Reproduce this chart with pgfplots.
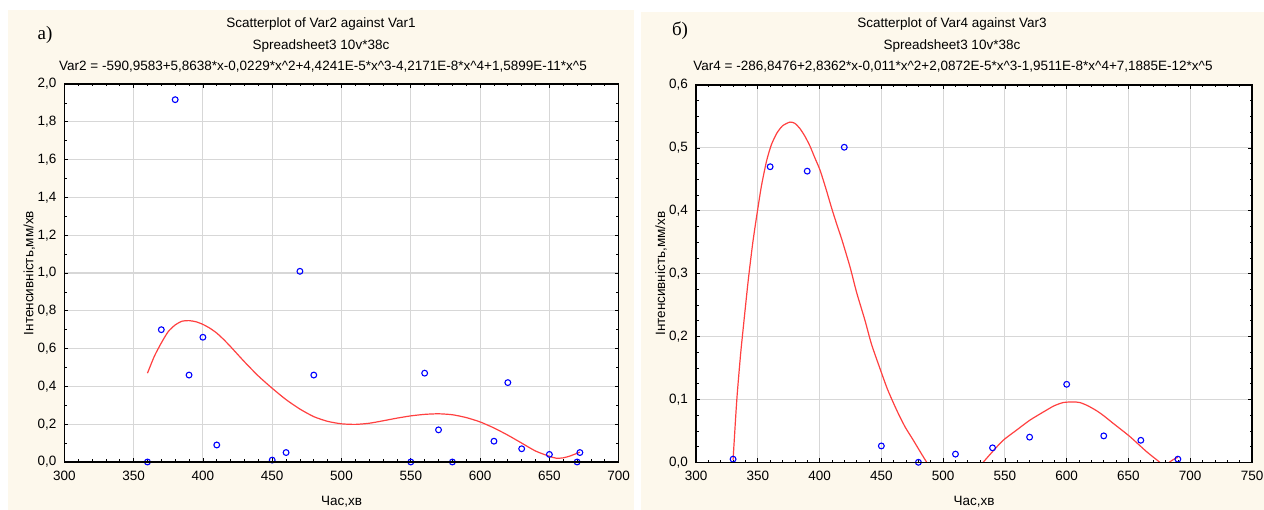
\documentclass[border=0pt]{standalone}
\usepackage{fontspec}
\setmainfont{Liberation Sans}
\newfontfamily\seriffont{Liberation Serif}
\usepackage{pgfplots}
\pgfplotsset{compat=1.18}
\definecolor{cream}{RGB}{253,248,236}
\definecolor{fitred}{RGB}{255,64,64}
\definecolor{gridgray}{RGB}{215,215,215}
\newcommand{\fs}{\fontsize{13.5bp}{15bp}\selectfont}
\pgfplotsset{
  myaxis/.style={
    scale only axis,
    axis background/.style={fill=white},
    font=\fs,
    tick align=inside,
    xtick pos=both, ytick pos=both,
    xticklabel pos=left, yticklabel pos=left,
    axis line style={black, line width=1.2bp},
    grid=major,
    major grid style={draw=gridgray, line width=1.1bp},
    major tick length=4bp,
    minor tick length=2.5bp,
    every tick/.style={black, line width=0.7bp},
    yticklabel style={font=\fs, xshift=-4.5bp},
    xticklabel style={font=\fs, yshift=-5.5bp},
    xlabel style={at={([yshift=-39.7bp]axis description cs:0.5,0)}, anchor=center, font=\fs},
    ylabel style={at={([xshift=-35bp]axis description cs:0,0.5)}, anchor=center, font=\fs},
    clip=true,
    after end axis/.code={\draw[black, line width=1.3bp] (rel axis cs:0,0) rectangle (rel axis cs:1,1);},
  },
  pts/.style={only marks, mark=o, mark size=2.9bp, draw=blue, mark options={draw=blue, line width=1.1bp}},
  fit/.style={no marks, fitred, line width=1.2bp, smooth, tension=0.4},
}
\begin{document}
\begin{tikzpicture}[x=1bp,y=1bp]
\useasboundingbox (0,0) rectangle (1264,510);
\fill[white] (0,0) rectangle (1264,510);
\fill[cream] (8,0) rectangle (634,500);
\fill[cream] (641,0) rectangle (1264,498);

\node[font=\fs] at (321,486) {Scatterplot of Var2 against Var1};
\node[font=\fs] at (321,464) {Spreadsheet3 10v*38c};
\node[font=\fs] at (323,443) {Var2 = -590,9583+5,8638*x-0,0229*x\^{}2+4,4241E-5*x\^{}3-4,2171E-8*x\^{}4+1,5899E-11*x\^{}5};
\node[font=\seriffont\fontsize{19bp}{21bp}\selectfont] at (45,475) {а)};

\node[font=\fs] at (952,486) {Scatterplot of Var4 against Var3};
\node[font=\fs] at (952,464) {Spreadsheet3 10v*38c};
\node[font=\fs] at (953,443) {Var4 = -286,8476+2,8362*x-0,011*x\^{}2+2,0872E-5*x\^{}3-1,9511E-8*x\^{}4+7,1885E-12*x\^{}5};
\node[font=\seriffont\fontsize{19bp}{21bp}\selectfont] at (680,479) {б)};

\begin{axis}[myaxis,
  at={(64.3bp,48bp)}, anchor=south west,
  width=554.4bp, height=378bp,
  xmin=300, xmax=700, ymin=0, ymax=2,
  xtick={300,350,400,450,500,550,600,650,700},
  xticklabels={300,350,400,450,500,550,600,650,700},
  ytick={0,0.2,0.4,0.6,0.8,1.0,1.2,1.4,1.6,1.8,2.0},
  yticklabels={{0,0},{0,2},{0,4},{0,6},{0,8},{1,0},{1,2},{1,4},{1,6},{1,8},{2,0}},
  minor x tick num=4, minor y tick num=1,
  xlabel={Час,хв}, ylabel={Інтенсивність,мм/хв},
]
\addplot[fit] coordinates {
(360,0.47) (365,0.56) (370,0.63) (375,0.69) (380,0.725) (385,0.745) (390,0.748)
(395,0.742) (400,0.728) (405,0.708) (410,0.682) (415,0.648) (420,0.61) (430,0.53) (440,0.455) (450,0.39)
(460,0.33) (470,0.28) (480,0.24) (490,0.215) (500,0.202) (510,0.199) (520,0.205)
(530,0.218) (540,0.232) (550,0.244) (560,0.252) (570,0.255) (580,0.25) (590,0.235)
(600,0.212) (610,0.18) (620,0.142) (630,0.1) (640,0.058) (650,0.03) (655,0.02)
(660,0.022) (665,0.032) (672,0.052)
};
\addplot[pts] coordinates {
(360,0) (370,0.70) (380,1.917) (390,0.46) (400,0.66) (410,0.09) (450,0.01) (460,0.05)
(470,1.009) (480,0.46) (550,0) (560,0.47) (570,0.17) (580,0) (610,0.11) (620,0.42)
(630,0.07) (650,0.04) (670,0) (672,0.05)
};
\end{axis}

\begin{axis}[myaxis,
  at={(696bp,47.7bp)}, anchor=south west,
  width=556bp, height=377.3bp,
  xmin=300, xmax=750, ymin=0, ymax=0.6,
  xtick={300,350,400,450,500,550,600,650,700,750},
  xticklabels={300,350,400,450,500,550,600,650,700,750},
  ytick={0,0.1,0.2,0.3,0.4,0.5,0.6},
  yticklabels={{0,0},{0,1},{0,2},{0,3},{0,4},{0,5},{0,6}},
  minor x tick num=4, minor y tick num=3,
  xlabel={Час,хв}, ylabel={Інтенсивність,мм/хв},
]
\addplot[fit] coordinates {
(330,0.004) (333,0.099) (336,0.17) (338.3,0.215) (342.3,0.29) (346,0.35) (349.6,0.398)
(353,0.44) (357.2,0.48) (361,0.505) (365.3,0.523) (370,0.535) (376,0.541) (380,0.539)
(384,0.531) (388,0.519) (392.2,0.503) (396,0.485) (400.3,0.465) (405,0.436) (409.8,0.404)
(414,0.378) (417.9,0.355) (424.6,0.311) (430,0.27) (436.7,0.226) (442,0.188) (448.9,0.149)
(455,0.116) (462.4,0.083) (469,0.057) (475.9,0.035) (482,0.015) (486.7,0)
};
\addplot[fit] coordinates {
(532.4,0) (540,0.017) (548.6,0.035) (560,0.052) (570.2,0.067) (583.7,0.083) (590,0.09)
(597.2,0.095) (605,0.096) (610.7,0.095) (617,0.09) (624.2,0.082) (630,0.074) (637.6,0.062)
(651.1,0.041) (664.6,0.017) (675.4,0)
};
\addplot[fit] coordinates {(683,0) (686,0.004) (690,0.008)};
\addplot[pts] coordinates {
(330,0.005) (360,0.47) (390,0.463) (420,0.501) (450,0.026) (480,0) (510,0.013)
(540,0.023) (570,0.040) (600,0.124) (630,0.042) (660,0.035) (690,0.005)
};
\end{axis}
\end{tikzpicture}
\end{document}
